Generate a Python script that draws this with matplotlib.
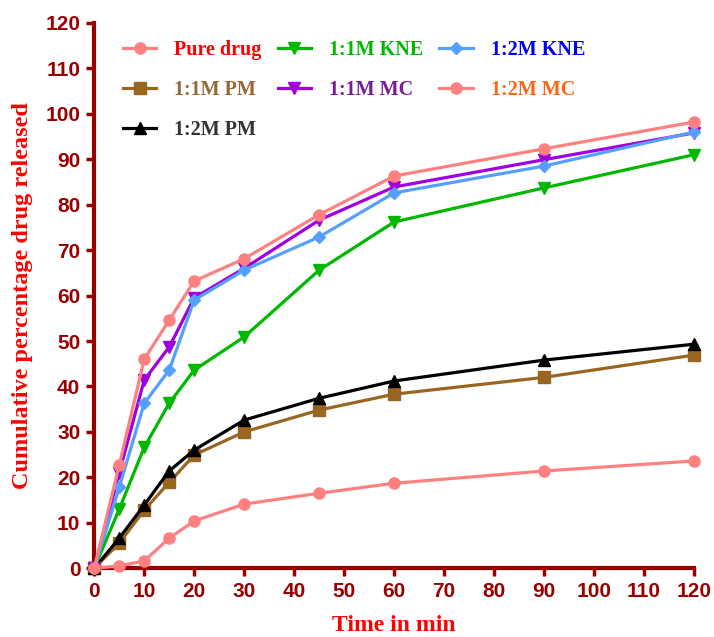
import matplotlib
matplotlib.use("Agg")
import matplotlib.pyplot as plt

plt.rcParams['font.family'] = ['Liberation Serif', 'DejaVu Serif']
plt.rcParams['font.weight'] = 'bold'

time = [0, 5, 10, 15, 20, 30, 45, 60, 90, 120]

pure_drug = [0, 0.5, 1.6, 6.6, 10.4, 14.1, 16.5, 18.7, 21.4, 23.6]
pm_11 = [0, 5.5, 12.8, 18.9, 24.9, 30.0, 34.8, 38.3, 42.0, 46.9]
pm_12 = [0, 6.6, 13.9, 21.4, 26.0, 32.6, 37.4, 41.2, 45.8, 49.3]
kne_11 = [0, 13.0, 26.6, 36.3, 43.6, 50.9, 65.6, 76.2, 83.7, 91.0]
mc_11 = [0, 21.0, 41.4, 48.7, 59.5, 66.0, 76.6, 83.9, 89.9, 95.8]
kne_12 = [0, 17.8, 36.3, 43.6, 59.0, 65.6, 72.9, 82.6, 88.5, 96.0]
mc_12 = [0, 22.7, 46.0, 54.6, 63.2, 68.1, 77.8, 86.3, 92.3, 98.2]

axc = '#990000'

fig = plt.figure(figsize=(7.14, 6.37), dpi=100)
ax = fig.add_axes([0.132, 0.108, 0.840, 0.856])

# (label, data, line colour, marker, text colour)
series = [
    ("Pure drug", pure_drug, '#ff8080', 'o', '#ff0000'),
    ("1:1M PM", pm_11, '#996622', 's', '#996633'),
    ("1:2M PM", pm_12, '#000000', '^', '#333333'),
    ("1:1M KNE", kne_11, '#00b800', 'v', '#00b800'),
    ("1:1M MC", mc_11, '#a000e0', 'v', '#7a1a9a'),
    ("1:2M KNE", kne_12, '#55a0ff', 'D', '#0000ee'),
    ("1:2M MC", mc_12, '#ff8080', 'o', '#ff6611'),
]

text_colors = []
for label, vals, c, m, tc in series:
    ms = 6.5 if m == 'D' else 8
    ax.plot(time, vals, color=c, marker=m, markersize=ms, linewidth=2.3,
            label=label, clip_on=False, zorder=3)
    text_colors.append(tc)

ax.set_xlim(0, 120)
ax.set_ylim(0, 120)
ax.set_xticks(range(0, 121, 10))
ax.set_yticks(range(0, 121, 10))

for s in ['top', 'right']:
    ax.spines[s].set_visible(False)
for s in ['left', 'bottom']:
    ax.spines[s].set_color(axc)
    ax.spines[s].set_linewidth(3)

ax.tick_params(axis='both', colors=axc, width=2.5, length=6, labelsize=15, pad=4)
for lab in ax.get_xticklabels() + ax.get_yticklabels():
    lab.set_fontfamily('Liberation Sans')
    lab.set_fontweight('bold')

ax.set_xlabel("Time in min", color='#ff0000', fontsize=17, fontweight='bold')
ax.xaxis.set_label_coords(0.5, -0.086)
ax.set_ylabel("Cumulative percentage drug released", color='#ff0000', fontsize=17.5,
              fontweight='bold')
ax.yaxis.set_label_coords(-0.102, 0.5)

leg = ax.legend(ncol=3, loc='upper left', bbox_to_anchor=(0.031, 0.987), frameon=False,
                borderpad=0, handlelength=1.65, handletextpad=0.9, columnspacing=0.8,
                labelspacing=1.0, prop={'weight': 'bold', 'size': 14.5})
for t, tc in zip(leg.get_texts(), text_colors):
    t.set_color(tc)

fig.savefig("out.png", dpi=100)
